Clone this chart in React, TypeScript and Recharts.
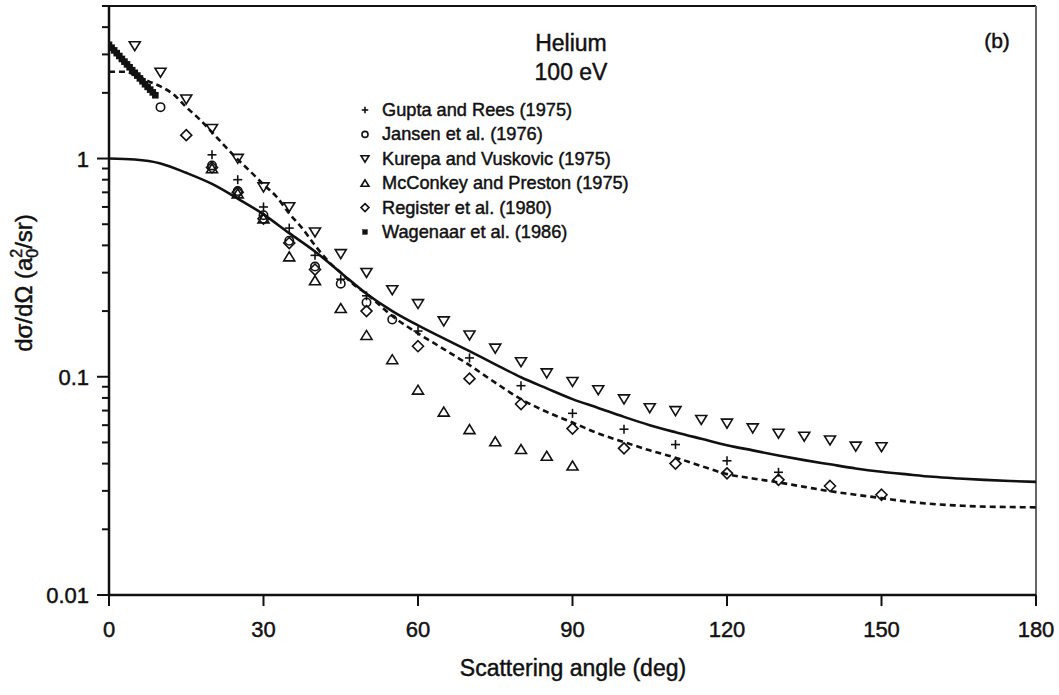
import React from 'react';
import {
  ComposedChart,
  Line,
  Scatter,
  XAxis,
  YAxis,
  ReferenceLine
} from 'recharts';

// Helium, 100 eV elastic differential cross section
const THEORY_ANGLES = [0, 5, 10, 15, 20, 25, 30, 35, 40, 45, 50, 55, 60, 65, 70, 75, 80, 85, 90, 95, 100, 105, 110, 115, 120, 125, 130, 135, 140, 145, 150, 155, 160, 165, 170, 175, 180];
const SOLID_VALUES = [1.0, 0.99, 0.95, 0.86, 0.765, 0.655, 0.555, 0.455, 0.375, 0.3, 0.24, 0.2, 0.172, 0.15, 0.131, 0.114, 0.0995, 0.0885, 0.079, 0.072, 0.0655, 0.06, 0.0557, 0.052, 0.0486, 0.046, 0.0436, 0.0415, 0.0397, 0.038, 0.0367, 0.0357, 0.0348, 0.0342, 0.0337, 0.0333, 0.033];

const DASHED_ANGLES = [0, 3, 5, 7.5, 10, 12.5, 15, 17.5, 20, 22.5, 25, 27.5, 30, 32.5, 35, 37.5, 40, 42.5, 45, 47.5, 50, 55, 60, 65, 70, 75, 80, 85, 90, 95, 100, 105, 110, 115, 120, 125, 130, 135, 140, 145, 150, 155, 160, 165, 170, 175, 180];
const DASHED_VALUES = [2.5, 2.5, 2.42, 2.27, 2.14, 1.97, 1.72, 1.52, 1.32, 1.14, 0.99, 0.87, 0.76, 0.67, 0.56, 0.48, 0.4, 0.34, 0.3, 0.265, 0.24, 0.19, 0.158, 0.134, 0.113, 0.094, 0.079, 0.069, 0.0617, 0.055, 0.0502, 0.046, 0.0426, 0.039, 0.0358, 0.0342, 0.0328, 0.0313, 0.0299, 0.0288, 0.0278, 0.0268, 0.0261, 0.0257, 0.0254, 0.0253, 0.0252];

const GUPTA_ANGLES = [20, 25, 30, 35, 40, 45, 50, 60, 70, 80, 90, 100, 110, 120, 130];
const GUPTA_VALUES = [1.04, 0.8, 0.6, 0.48, 0.36, 0.28, 0.235, 0.162, 0.122, 0.091, 0.068, 0.0575, 0.0489, 0.0412, 0.0365];

const JANSEN_ANGLES = [10, 20, 25, 30, 35, 40, 45, 50, 55];
const JANSEN_VALUES = [1.72, 0.93, 0.71, 0.55, 0.42, 0.32, 0.267, 0.219, 0.183];

const KUREPA_ANGLES = [5, 10, 15, 20, 25, 30, 35, 40, 45, 50, 55, 60, 65, 70, 75, 80, 85, 90, 95, 100, 105, 110, 115, 120, 125, 130, 135, 140, 145, 150];
const KUREPA_VALUES = [3.28, 2.48, 1.87, 1.37, 1.0, 0.74, 0.6, 0.46, 0.366, 0.3, 0.25, 0.216, 0.18, 0.155, 0.135, 0.117, 0.104, 0.095, 0.087, 0.079, 0.072, 0.0698, 0.0636, 0.0612, 0.0582, 0.055, 0.0533, 0.0512, 0.048, 0.0477];

const MCCONKEY_ANGLES = [20, 25, 30, 35, 40, 45, 50, 55, 60, 65, 70, 75, 80, 85, 90];
const MCCONKEY_VALUES = [0.9, 0.69, 0.53, 0.355, 0.276, 0.206, 0.155, 0.12, 0.087, 0.069, 0.0574, 0.0505, 0.0465, 0.0433, 0.0391];

const REGISTER_ANGLES = [15, 20, 25, 30, 35, 40, 50, 60, 70, 80, 90, 100, 110, 120, 130, 140, 150];
const REGISTER_VALUES = [1.28, 0.91, 0.7, 0.53, 0.41, 0.31, 0.2, 0.138, 0.098, 0.075, 0.0579, 0.047, 0.04, 0.0361, 0.0337, 0.0316, 0.0288];

const WAGENAAR_ANGLES = [0, 0.5, 1, 1.5, 2, 2.5, 3, 3.5, 4, 4.5, 5, 5.5, 6, 6.5, 7, 7.5, 8, 8.5, 9];
const WAGENAAR_VALUES = [3.32, 3.22, 3.13, 3.04, 2.95, 2.86, 2.78, 2.7, 2.62, 2.54, 2.47, 2.4, 2.33, 2.26, 2.19, 2.13, 2.07, 2.01, 1.95];

const X_TICKS = [0, 30, 60, 90, 120, 150, 180];
const Y_TICKS = [0.01, 0.02, 0.03, 0.04, 0.05, 0.06, 0.07, 0.08, 0.09, 0.1, 0.2, 0.3, 0.4, 0.5, 0.6, 0.7, 0.8, 0.9, 1, 2, 3, 4, 5];
const Y_LABELS: Record<string, string> = { '0.01': '0.01', '0.1': '0.1', '1': '1' };

const LEGEND_ITEMS = [
  { kind: 'plus', label: 'Gupta and Rees (1975)' },
  { kind: 'circle', label: 'Jansen et al. (1976)' },
  { kind: 'down', label: 'Kurepa and Vuskovic (1975)' },
  { kind: 'up', label: 'McConkey and Preston (1975)' },
  { kind: 'diamond', label: 'Register et al. (1980)' },
  { kind: 'square', label: 'Wagenaar et al. (1986)' }
];

const FONT = '"Liberation Sans", Arial, sans-serif';
const INK = '#111';
// thin outline on glyphs so the text reads a little heavier
const HEAVY = { stroke: INK, strokeWidth: 0.45 };

const toPoints = (xs: number[], ys: number[]) => xs.map((x, i) => ({ x, y: ys[i] }));

const Marker = ({ kind, cx, cy, s = 1 }: { kind: string; cx: number; cy: number; s?: number }) => {
  const sw = 1.6;
  switch (kind) {
    case 'plus':
      return (
        <g stroke={INK} strokeWidth={sw}>
          <line x1={cx - 4.5 * s} y1={cy} x2={cx + 4.5 * s} y2={cy} />
          <line x1={cx} y1={cy - 4.5 * s} x2={cx} y2={cy + 4.5 * s} />
        </g>
      );
    case 'circle':
      return <circle cx={cx} cy={cy} r={4.2 * s} fill="none" stroke={INK} strokeWidth={sw} />;
    case 'down':
      return (
        <polygon
          points={`${cx - 5.5 * s},${cy - 4.2 * s} ${cx + 5.5 * s},${cy - 4.2 * s} ${cx},${cy + 4.8 * s}`}
          fill="none" stroke={INK} strokeWidth={sw}
        />
      );
    case 'up':
      return (
        <polygon
          points={`${cx - 5.5 * s},${cy + 4.2 * s} ${cx + 5.5 * s},${cy + 4.2 * s} ${cx},${cy - 4.8 * s}`}
          fill="none" stroke={INK} strokeWidth={sw}
        />
      );
    case 'diamond':
      return (
        <polygon
          points={`${cx},${cy - 5.5 * s} ${cx + 5.5 * s},${cy} ${cx},${cy + 5.5 * s} ${cx - 5.5 * s},${cy}`}
          fill="none" stroke={INK} strokeWidth={sw}
        />
      );
    default:
      return <rect x={cx - 3.3 * s} y={cy - 3.3 * s} width={6.6 * s} height={6.6 * s} fill={INK} />;
  }
};

const shapeOf = (kind: string) => (p: any) => <Marker kind={kind} cx={p.cx} cy={p.cy} />;

const YTick = (props: any) => {
  const { x, y, payload } = props;
  const label = Y_LABELS[String(payload.value)];
  return (
    <g>
      <line x1={x} y1={y} x2={x - (label ? 12 : 7)} y2={y} stroke={INK} strokeWidth={2} />
      {label && (
        <text x={x - 20} y={y + 8} textAnchor="end" fontSize={22} fill={INK} fontFamily={FONT} {...HEAVY}>
          {label}
        </text>
      )}
    </g>
  );
};

const XTick = (props: any) => {
  const { x, y, payload } = props;
  return (
    <g>
      <line x1={x} y1={y} x2={x} y2={y + 11} stroke={INK} strokeWidth={2} />
      <text x={x} y={y + 42} textAnchor="middle" fontSize={22} fill={INK} fontFamily={FONT} {...HEAVY}>
        {payload.value}
      </text>
    </g>
  );
};

export default function App() {
  return (
    <div style={{ position: 'absolute', left: 0, top: 0, width: 1059, height: 695, background: '#fff', fontFamily: FONT }}>
      <ComposedChart
        width={1059}
        height={695}
        margin={{ top: 6, right: 23, bottom: 70, left: 9 }}
      >
        <XAxis
          type="number"
          dataKey="x"
          domain={[0, 180]}
          ticks={X_TICKS}
          interval={0}
          tickSize={0}
          tickMargin={0}
          tick={<XTick />}
          height={30}
          axisLine={{ stroke: INK, strokeWidth: 2.5 }}
          allowDataOverflow
        />
        <YAxis
          type="number"
          dataKey="y"
          scale="log"
          domain={[0.01, 5]}
          ticks={Y_TICKS}
          interval={0}
          tickSize={0}
          tickMargin={0}
          tick={<YTick />}
          width={100}
          axisLine={{ stroke: INK, strokeWidth: 2.5 }}
          allowDataOverflow
        />
        <ReferenceLine y={5} stroke={INK} strokeWidth={2} />
        <ReferenceLine x={180} stroke="#666" strokeWidth={2} />
        <Line
          data={toPoints(THEORY_ANGLES, SOLID_VALUES)}
          dataKey="y"
          type="monotone"
          dot={false}
          stroke={INK}
          strokeWidth={2.6}
          isAnimationActive={false}
        />
        <Line
          data={toPoints(DASHED_ANGLES, DASHED_VALUES)}
          dataKey="y"
          type="monotone"
          dot={false}
          stroke={INK}
          strokeWidth={2.6}
          strokeDasharray="6 4"
          isAnimationActive={false}
        />
        <Scatter data={toPoints(WAGENAAR_ANGLES, WAGENAAR_VALUES)} shape={shapeOf('square')} isAnimationActive={false} />
        <Scatter data={toPoints(KUREPA_ANGLES, KUREPA_VALUES)} shape={shapeOf('down')} isAnimationActive={false} />
        <Scatter data={toPoints(MCCONKEY_ANGLES, MCCONKEY_VALUES)} shape={shapeOf('up')} isAnimationActive={false} />
        <Scatter data={toPoints(REGISTER_ANGLES, REGISTER_VALUES)} shape={shapeOf('diamond')} isAnimationActive={false} />
        <Scatter data={toPoints(JANSEN_ANGLES, JANSEN_VALUES)} shape={shapeOf('circle')} isAnimationActive={false} />
        <Scatter data={toPoints(GUPTA_ANGLES, GUPTA_VALUES)} shape={shapeOf('plus')} isAnimationActive={false} />
      </ComposedChart>

      {/* titles, legend and axis captions */}
      <svg width={1059} height={695} style={{ position: 'absolute', left: 0, top: 0, pointerEvents: 'none' }}>
        <g fontFamily={FONT} fill={INK} {...HEAVY}>
          <text x={571} y={51} textAnchor="middle" fontSize={23}>Helium</text>
          <text x={571} y={80} textAnchor="middle" fontSize={23}>100 eV</text>
          <text x={997} y={48} textAnchor="middle" fontSize={21}>(b)</text>
          {LEGEND_ITEMS.map((item, i) => (
            <g key={item.label}>
              <Marker kind={item.kind} cx={365} cy={110 + i * 24.4} s={0.72} />
              <text x={382} y={116 + i * 24.4} fontSize={18.2}>{item.label}</text>
            </g>
          ))}
          <text x={573} y={676} textAnchor="middle" fontSize={23}>Scattering angle (deg)</text>
          <text transform="translate(32, 283) rotate(-90)" textAnchor="middle" fontSize={24}>
            <tspan>dσ/dΩ  (a</tspan>
            <tspan fontSize={16} dy={6}>0</tspan>
            <tspan fontSize={16} dx={-9} dy={-16}>2</tspan>
            <tspan dy={10}>/sr)</tspan>
          </text>
        </g>
      </svg>
    </div>
  );
}
